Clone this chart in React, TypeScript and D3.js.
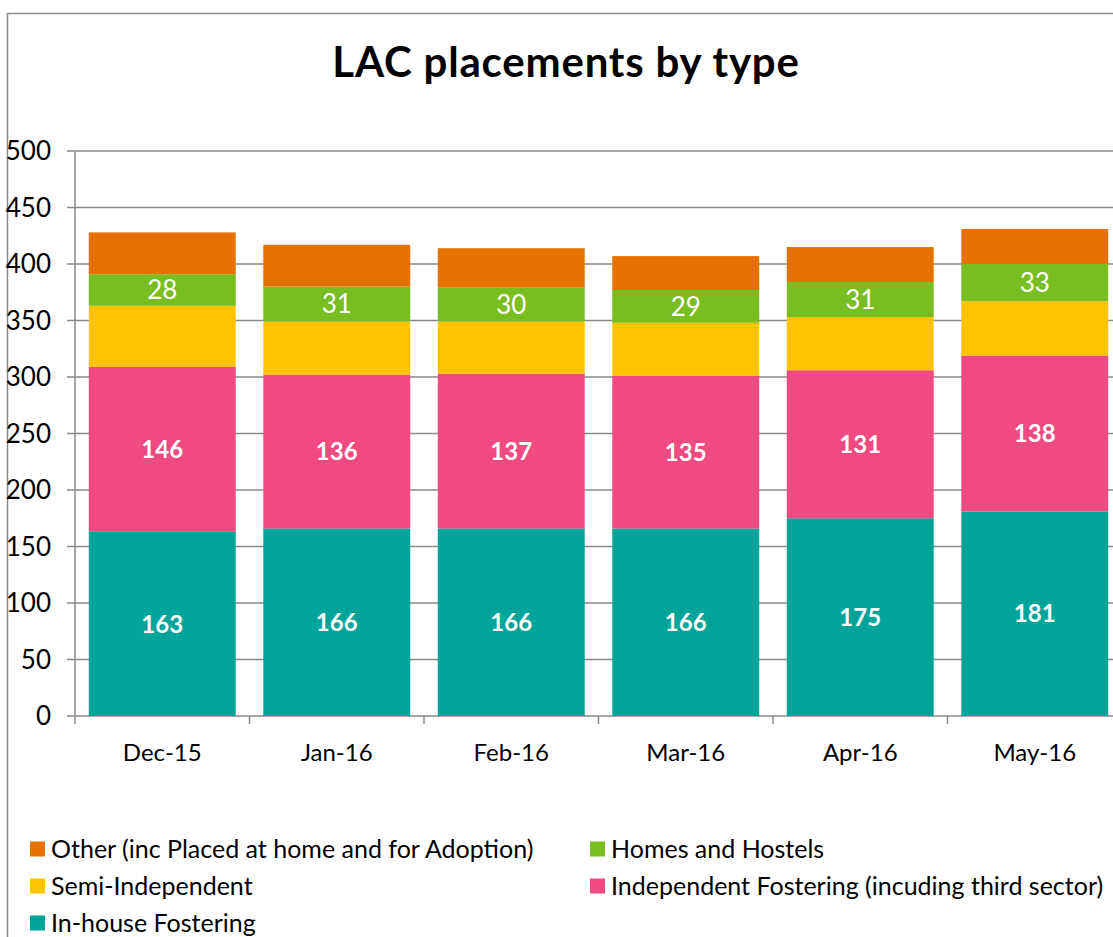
import React from "react";
import * as d3 from "d3";

const categories = ["Dec-15", "Jan-16", "Feb-16", "Mar-16", "Apr-16", "May-16"];
const inHouse = [163, 166, 166, 166, 175, 181];
const independent = [146, 136, 137, 135, 131, 138];
const semiIndependent = [54, 47, 46, 47, 47, 48];
const homesHostels = [28, 31, 30, 29, 31, 33];
const other = [37, 37, 35, 30, 31, 31];
const yTicks = [0, 50, 100, 150, 200, 250, 300, 350, 400, 450, 500];

const seriesNames = [
  "In-house Fostering",
  "Independent Fostering (incuding third sector)",
  "Semi-Independent",
  "Homes and Hostels",
  "Other (inc Placed at home and for Adoption)",
];
const seriesValues = [inHouse, independent, semiIndependent, homesHostels, other];
const colors = ["#00A499", "#EF4A81", "#FFC300", "#78BE20", "#E57200"];
const labelStyle = ["bold", "bold", "none", "normal", "none"];

const FONT = "Lato, 'Open Sans', sans-serif";

export default function App() {
  const W = 1113;
  const H = 937;
  const x0 = 75;
  const step = 174.5;
  const x = d3
    .scaleBand<string>()
    .domain(categories)
    .range([x0, x0 + step * categories.length])
    .paddingInner(0.158)
    .paddingOuter(0.079);
  const y = d3.scaleLinear().domain([0, 500]).range([716, 151]);

  const rows = categories.map((c, i) => {
    const r: any = { cat: c };
    seriesNames.forEach((s, k) => (r[s] = seriesValues[k][i]));
    return r;
  });
  const stacked = d3.stack<any>().keys(seriesNames)(rows);

  const legend = [
    { name: seriesNames[4], color: colors[4], x: 30, y: 849 },
    { name: seriesNames[3], color: colors[3], x: 590, y: 849 },
    { name: seriesNames[2], color: colors[2], x: 30, y: 886 },
    { name: seriesNames[1], color: colors[1], x: 590, y: 886 },
    { name: seriesNames[0], color: colors[0], x: 30, y: 923 },
  ];

  return (
    <svg
      width={W}
      height={H}
      style={{ position: "absolute", left: 0, top: 0, background: "#fff" }}
      fontFamily={FONT}
    >
      <rect x={0} y={0} width={W} height={H} fill="#fff" />
      {/* chart border */}
      <path d={`M7.5,${H + 5} V13.5 H${W + 5}`} fill="none" stroke="#8a8a8a" strokeWidth={1.5} />
      <text
        x={566}
        y={77}
        textAnchor="middle"
        fontSize={42}
        fontWeight="bold"
        letterSpacing={0.8}
        fill="#000"
      >
        LAC placements by type
      </text>
      {/* gridlines & y ticks */}
      {yTicks.map((t) => (
        <g key={t}>
          <line x1={67} x2={W + 10} y1={y(t)} y2={y(t)} stroke="#8a8a8a" strokeWidth={1.5} />
          <text x={51} y={y(t)} dy="0.35em" textAnchor="end" fontSize={26} fill="#000">
            {t}
          </text>
        </g>
      ))}
      <line x1={x0} x2={x0} y1={y(500)} y2={y(0) + 8} stroke="#8a8a8a" strokeWidth={1.5} />
      {/* x tick marks */}
      {categories.map((c, i) => (
        <line
          key={c}
          x1={x0 + step * (i + 1)}
          x2={x0 + step * (i + 1)}
          y1={y(0)}
          y2={y(0) + 8}
          stroke="#8a8a8a"
          strokeWidth={1.5}
        />
      ))}
      {/* bars */}
      {stacked.map((layer, k) => (
        <g key={layer.key}>
          {layer.map((d, i) => (
            <rect
              key={i}
              x={x(categories[i])}
              width={x.bandwidth()}
              y={y(d[1])}
              height={y(d[0]) - y(d[1])}
              fill={colors[k]}
            />
          ))}
        </g>
      ))}
      {/* data labels */}
      {stacked.map((layer, k) =>
        labelStyle[k] === "none"
          ? null
          : layer.map((d, i) => (
              <text
                key={`${k}-${i}`}
                x={(x(categories[i]) as number) + x.bandwidth() / 2}
                y={y((d[0] + d[1]) / 2)}
                dy="0.36em"
                textAnchor="middle"
                fontSize={labelStyle[k] === "bold" ? 24 : 26}
                fontWeight={labelStyle[k] === "bold" ? "bold" : "normal"}
                fill="#fff"
              >
                {seriesValues[k][i]}
              </text>
            ))
      )}
      {/* x labels */}
      {categories.map((c) => (
        <text
          key={c}
          x={(x(c) as number) + x.bandwidth() / 2}
          y={761}
          textAnchor="middle"
          fontSize={24}
          fill="#000"
        >
          {c}
        </text>
      ))}
      {/* legend */}
      {legend.map((l) => (
        <g key={l.name}>
          <rect x={l.x} y={l.y - 7.5} width={15} height={15} fill={l.color} />
          <text x={l.x + 21} y={l.y} dy="0.35em" fontSize={25} fill="#000">
            {l.name}
          </text>
        </g>
      ))}
    </svg>
  );
}
